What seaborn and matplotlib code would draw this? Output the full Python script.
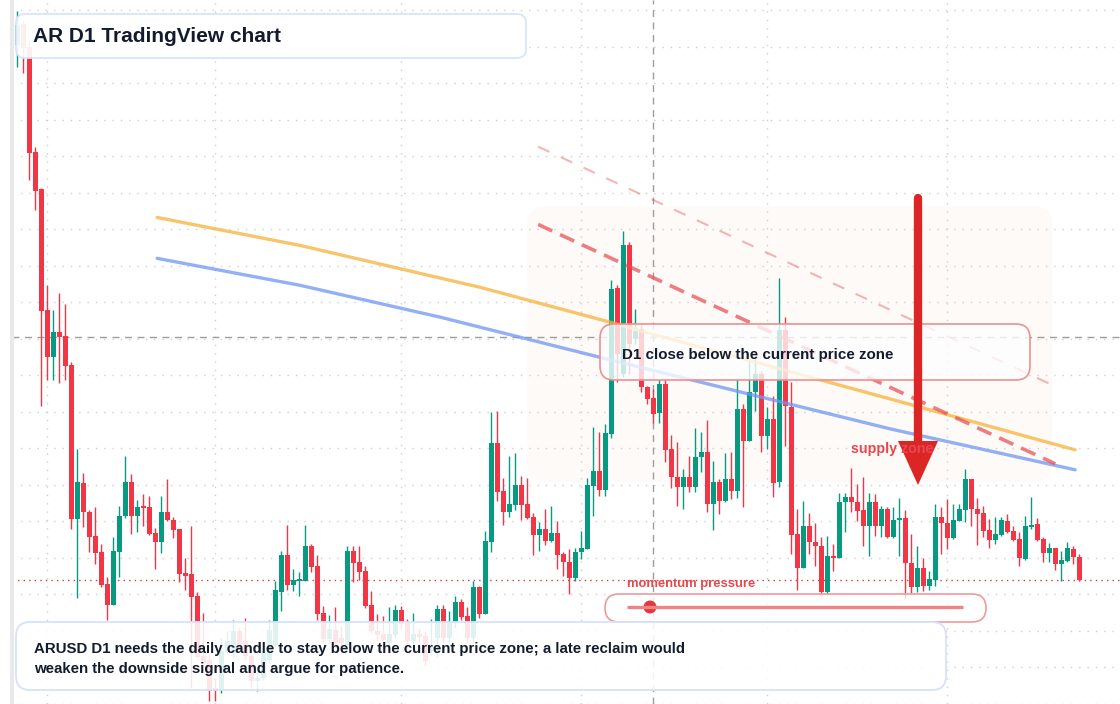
import numpy as np
import pandas as pd
import matplotlib
matplotlib.use("Agg")
import matplotlib.pyplot as plt
import seaborn as sns
from matplotlib.patches import FancyBboxPatch, Polygon, Circle

# ---- data (AR/USD, daily) ----
dates = pd.date_range("2025-01-27", periods=178, freq="D")

opens = [9.55, 9.76, 9.53, 8.48, 8.11, 6.89, 6.42, 6.67, 6.63, 6.34,
         4.80, 5.16, 4.87, 4.63, 4.47, 4.15, 3.93, 4.47, 4.83, 5.17,
         4.83, 4.92, 4.92, 4.66, 4.57, 4.87, 4.79, 4.70, 4.26, 4.25,
         4.02, 3.42, 3.38, 3.10, 3.08, 3.46, 3.45, 3.67, 3.57, 3.42,
         3.17, 3.20, 3.38, 3.53, 4.06, 4.44, 4.14, 4.18, 4.18, 4.53,
         4.33, 3.85, 3.59, 3.68, 3.60, 3.53, 4.48, 4.37, 4.28, 3.93,
         3.67, 3.64, 3.55, 3.63, 3.88, 3.75, 3.57, 3.64, 3.62, 3.50,
         3.60, 3.89, 3.60, 3.75, 3.96, 3.82, 3.60, 4.12, 3.84, 4.57,
         5.56, 5.08, 4.87, 4.94, 5.14, 4.95, 4.82, 4.64, 4.70, 4.58,
         4.66, 4.45, 4.37, 4.21, 4.47, 4.50, 5.13, 5.28, 5.09, 5.65,
         7.11, 6.25, 7.54, 6.60, 6.70, 6.12, 6.01, 5.86, 6.15, 5.50,
         5.22, 5.12, 5.22, 5.12, 5.42, 5.47, 4.95, 5.17, 4.98, 5.20,
         5.08, 5.90, 5.58, 6.07, 6.25, 5.63, 5.80, 5.17, 6.69, 5.92,
         4.65, 4.31, 4.73, 4.57, 4.53, 4.06, 4.43, 4.41, 4.97, 5.02,
         4.97, 4.89, 4.73, 4.97, 4.73, 4.90, 4.62, 4.79, 4.81, 4.36,
         4.11, 4.31, 4.13, 4.19, 4.82, 4.76, 4.61, 4.78, 4.89, 5.20,
         4.90, 4.86, 4.69, 4.59, 4.64, 4.78, 4.68, 4.60, 4.40, 4.72,
         4.75, 4.60, 4.46, 4.51, 4.35, 4.38, 4.50, 4.42]

highs = [9.89, 9.79, 9.59, 8.53, 8.12, 7.14, 6.89, 7.06, 6.95, 6.37,
         5.50, 5.26, 4.89, 4.92, 4.55, 4.22, 4.62, 4.93, 5.43, 5.25,
         4.99, 5.05, 5.03, 4.71, 5.03, 5.20, 4.82, 4.70, 4.41, 4.73,
         4.06, 3.85, 3.45, 3.20, 3.60, 3.67, 3.78, 3.70, 3.80, 3.45,
         3.30, 3.50, 3.78, 4.18, 4.48, 4.74, 4.30, 4.27, 4.74, 4.55,
         4.44, 3.92, 3.83, 3.91, 3.72, 4.53, 4.53, 4.53, 4.33, 4.07,
         3.84, 3.82, 3.91, 3.93, 3.92, 3.79, 3.85, 3.70, 3.67, 3.79,
         3.93, 3.93, 3.87, 4.02, 3.99, 3.91, 4.18, 4.13, 4.68, 5.87,
         5.88, 5.21, 5.43, 5.46, 5.23, 5.21, 4.86, 4.77, 4.90, 4.93,
         4.78, 4.47, 4.50, 4.51, 4.68, 5.21, 5.72, 5.67, 5.75, 7.19,
         7.14, 7.68, 7.57, 6.90, 6.74, 6.13, 6.10, 6.20, 6.20, 5.64,
         5.57, 5.30, 5.43, 5.71, 5.67, 5.79, 5.38, 5.20, 5.46, 5.47,
         6.21, 5.95, 6.38, 6.40, 6.28, 5.92, 6.03, 7.21, 6.82, 6.17,
         4.90, 4.98, 4.86, 4.76, 4.62, 4.63, 4.55, 5.06, 5.06, 5.31,
         5.15, 5.22, 5.06, 5.05, 4.93, 4.92, 4.92, 5.01, 4.89, 4.65,
         4.53, 4.41, 4.28, 4.95, 4.92, 5.00, 4.95, 4.95, 5.30, 5.20,
         5.01, 4.93, 4.80, 4.82, 4.82, 4.85, 4.73, 4.67, 4.83, 5.02,
         4.81, 4.62, 4.56, 4.51, 4.48, 4.57, 4.53, 4.45]

lows = [9.33, 9.27, 8.20, 7.89, 5.93, 6.19, 6.19, 6.16, 6.19, 4.70,
        4.00, 4.72, 4.47, 4.35, 4.11, 3.78, 3.93, 4.22, 4.81, 4.65,
        4.67, 4.73, 4.64, 4.30, 4.46, 4.78, 4.61, 4.17, 4.08, 3.10,
        3.40, 3.32, 2.97, 2.97, 3.05, 3.44, 3.40, 3.48, 3.38, 3.10,
        3.07, 3.18, 3.35, 3.50, 3.87, 4.08, 4.07, 4.02, 4.18, 4.27,
        3.78, 3.55, 3.55, 3.50, 3.45, 3.50, 4.17, 4.19, 3.90, 3.65,
        3.57, 3.50, 3.50, 3.60, 3.70, 3.50, 3.52, 3.55, 3.33, 3.43,
        3.41, 3.55, 3.55, 3.70, 3.78, 3.55, 3.55, 3.80, 3.84, 4.47,
        4.98, 4.74, 4.82, 4.89, 4.79, 4.80, 4.44, 4.48, 4.54, 4.57,
        4.30, 4.23, 4.04, 4.18, 4.40, 4.50, 4.83, 5.03, 5.03, 5.61,
        6.17, 6.22, 6.25, 6.55, 6.07, 5.95, 5.76, 5.76, 5.37, 5.11,
        4.93, 4.90, 5.07, 5.07, 5.27, 4.87, 4.69, 4.85, 4.97, 5.00,
        5.01, 4.92, 5.58, 5.88, 5.47, 5.50, 5.02, 5.12, 5.53, 4.45,
        4.08, 4.31, 4.45, 4.33, 4.03, 4.03, 4.28, 4.41, 4.67, 4.87,
        4.78, 4.53, 4.43, 4.63, 4.62, 4.61, 4.61, 4.43, 4.00, 4.05,
        4.06, 4.07, 4.08, 4.13, 4.45, 4.50, 4.60, 4.78, 4.77, 4.73,
        4.54, 4.62, 4.51, 4.55, 4.63, 4.66, 4.58, 4.33, 4.39, 4.70,
        4.58, 4.37, 4.37, 4.29, 4.18, 4.37, 4.35, 4.18]

closes = [9.75, 9.52, 8.47, 8.09, 6.88, 6.42, 6.67, 6.62, 6.33, 4.80,
          5.17, 4.87, 4.62, 4.46, 4.14, 3.93, 4.48, 4.83, 5.17, 4.83,
          4.92, 4.91, 4.65, 4.57, 4.87, 4.79, 4.69, 4.25, 4.23, 4.01,
          3.41, 3.35, 3.07, 3.07, 3.47, 3.57, 3.67, 3.51, 3.42, 3.17,
          3.20, 3.47, 3.68, 4.08, 4.44, 4.14, 4.19, 4.19, 4.53, 4.32,
          3.84, 3.59, 3.69, 3.55, 3.55, 4.48, 4.36, 4.27, 3.92, 3.67,
          3.63, 3.58, 3.64, 3.88, 3.74, 3.57, 3.64, 3.61, 3.37, 3.52,
          3.89, 3.60, 3.75, 3.96, 3.81, 3.60, 4.12, 3.84, 4.58, 5.56,
          5.07, 4.87, 4.95, 5.14, 4.94, 4.81, 4.64, 4.70, 4.58, 4.66,
          4.44, 4.37, 4.21, 4.47, 4.51, 5.14, 5.28, 5.09, 5.66, 7.10,
          6.45, 7.54, 6.55, 6.68, 6.12, 6.00, 5.85, 6.15, 5.49, 5.22,
          5.12, 5.22, 5.12, 5.42, 5.47, 4.95, 5.17, 4.98, 5.20, 5.08,
          5.90, 5.58, 6.07, 6.25, 5.63, 5.80, 5.16, 6.69, 5.93, 4.64,
          4.31, 4.73, 4.57, 4.53, 4.06, 4.43, 4.41, 4.97, 5.02, 4.97,
          4.88, 4.73, 4.97, 4.73, 4.90, 4.62, 4.79, 4.81, 4.36, 4.11,
          4.31, 4.13, 4.20, 4.82, 4.76, 4.61, 4.79, 4.90, 5.20, 4.90,
          4.85, 4.68, 4.59, 4.65, 4.79, 4.67, 4.59, 4.41, 4.73, 4.74,
          4.59, 4.46, 4.51, 4.35, 4.39, 4.51, 4.42, 4.19]

# moving averages (bar position, price)
ma_orange_x = [23.3, 47.1, 77.1, 98.8, 107.1, 145.5, 176.3]
ma_orange_y = [7.82, 7.54, 7.12, 6.77, 6.63, 6.00, 5.49]
ma_blue_x = [23.3, 47.1, 70.5, 98.3, 145.5, 176.3]
ma_blue_y = [7.41, 7.14, 6.82, 6.40, 5.70, 5.29]

# descending channel
chan_x = [86.8, 173.0]
chan_lower = [7.75, 5.35]
chan_upper_x = [86.8, 172.5]
chan_upper = [8.53, 6.14]

# supply zone box and crosshair
zone_bars = [85.0, 172.5]
zone_prices = [5.17, 7.93]
cross_bar = 106
cross_price = 6.62

df = pd.DataFrame({"date": dates, "open": opens, "high": highs,
                   "low": lows, "close": closes})
df["pos"] = np.arange(len(df))
df["up"] = df["close"] >= df["open"]

GREEN = "#089981"
RED = "#f23645"

sns.set_style("white")
plt.rcParams["font.family"] = ["Liberation Sans", "DejaVu Sans"]

fig = plt.figure(figsize=(11.2, 7.04), dpi=100)
ax = fig.add_axes([12 / 1120, 0, 1108 / 1120, 1])
ax.set_xlim(-0.883, 183.78)
ax.set_ylim(2.96, 10.0)

# grid: month starts and fixed price steps
month_starts = np.where(df["date"].dt.day == 1)[0]
ax.set_xticks(month_starts)
ax.set_yticks(7.70 - 0.366 * np.arange(-6, 14))
ax.grid(True, color="#cfcfcf", linestyle=(0, (1, 5)), linewidth=1)
ax.tick_params(length=0, labelbottom=False, labelleft=False)
for s in ["top", "right", "bottom"]:
    ax.spines[s].set_visible(False)
ax.spines["left"].set_color("#e9e9e9")
ax.spines["left"].set_linewidth(3)

# supply zone
zone = FancyBboxPatch((zone_bars[0], zone_prices[0]), zone_bars[1] - zone_bars[0],
                      zone_prices[1] - zone_prices[0],
                      boxstyle="round,pad=0,rounding_size=3", mutation_aspect=0.06,
                      fc="#fbeee6", ec="none", alpha=0.25, zorder=0.5)
ax.add_patch(zone)

# crosshair + last price line
ax.axhline(cross_price, color="#9e9e9e", lw=1, linestyle=(0, (5, 4)), zorder=1)
ax.axvline(cross_bar, color="#9e9e9e", lw=1, linestyle=(0, (5, 4)), zorder=1)
ax.axhline(closes[-1], color="#e53935", lw=1, linestyle=(0, (1, 3)), zorder=1)

# candles
colors = np.where(df["up"], GREEN, RED)
ax.vlines(df["pos"], df["low"], df["high"], colors=colors, lw=1, zorder=2)
body_lo = df[["open", "close"]].min(axis=1)
body_h = (df["close"] - df["open"]).abs().clip(lower=0.015)
ax.bar(df["pos"], body_h, bottom=body_lo, width=0.78, color=colors,
       linewidth=0, zorder=3)

# moving averages
sns.lineplot(x=ma_orange_x, y=ma_orange_y, ax=ax, color="#f7b23b", alpha=0.75,
             lw=2.4, zorder=4)
sns.lineplot(x=ma_blue_x, y=ma_blue_y, ax=ax, color="#6f96f3", alpha=0.75,
             lw=2.4, zorder=4)

# channel
ax.plot(chan_x, chan_lower, color="#e5484d", alpha=0.7, lw=2.6,
        linestyle=(0, (4.3, 2.4)), zorder=4)
ax.plot(chan_upper_x, chan_upper, color="#e5484d", alpha=0.4, lw=1.5,
        linestyle=(0, (6, 6)), zorder=4)

# ---- annotation overlay in pixel space ----
ov = fig.add_axes([0, 0, 1, 1], zorder=5)
ov.set_xlim(0, 1120)
ov.set_ylim(704, 0)
ov.axis("off")
ov.patch.set_alpha(0)

NAVY = "#131b2e"
RED_TXT = "#e5484d"

# title
ov.add_patch(FancyBboxPatch((16, 14), 510, 44, boxstyle="round,pad=0,rounding_size=9",
                            fc="white", ec="#d5e3fa", lw=1.3, alpha=0.92))
ov.text(33, 37, "AR D1 TradingView chart", fontsize=15, fontweight="bold",
        color=NAVY, va="center")

# supply zone label + arrow
ov.text(851, 449.5, "supply zone", fontsize=10.3, fontweight="bold", color=RED_TXT,
        va="center")
ov.plot([918, 918], [198, 445], color="#dc2626", lw=6, solid_capstyle="round")
ov.add_patch(Polygon([(898, 441), (938, 441), (918, 485)], closed=True,
                     fc="#dc2626", ec="none"))

# callout
ov.add_patch(FancyBboxPatch((600, 324), 430, 56, boxstyle="round,pad=0,rounding_size=14",
                            fc=(1, 1, 1, 0.78), ec="#ef8f90", lw=1.2))
ov.text(622, 355.5, "D1 close below the current price zone", fontsize=10.9,
        fontweight="bold", color=NAVY, va="center")

# momentum widget
ov.text(627, 583.5, "momentum pressure", fontsize=9.4, fontweight="bold",
        color=RED_TXT, va="center")
ov.add_patch(FancyBboxPatch((605, 594), 381, 28, boxstyle="round,pad=0,rounding_size=14",
                            fc=(1, 1, 1, 0.75), ec="#f09a9b", lw=1.2))
ov.plot([627, 963], [607, 607], color="#ee8486", lw=2.4, solid_capstyle="butt")
ov.add_patch(Circle((650, 607), 6.5, fc="#e03a3e", ec="none"))

# bottom note
ov.add_patch(FancyBboxPatch((16, 622), 930, 68, boxstyle="round,pad=0,rounding_size=14",
                            fc=(1, 1, 1, 0.88), ec="#d5e3fa", lw=1.3))
ov.text(34, 648.5, "ARUSD D1 needs the daily candle to stay below the current price zone; "
        "a late reclaim would", fontsize=10.85, fontweight="bold", color=NAVY, va="center")
ov.text(34, 668.5, "weaken the downside signal and argue for patience.", fontsize=10.85,
        fontweight="bold", color=NAVY, va="center")

fig.savefig("out.png", dpi=100)
